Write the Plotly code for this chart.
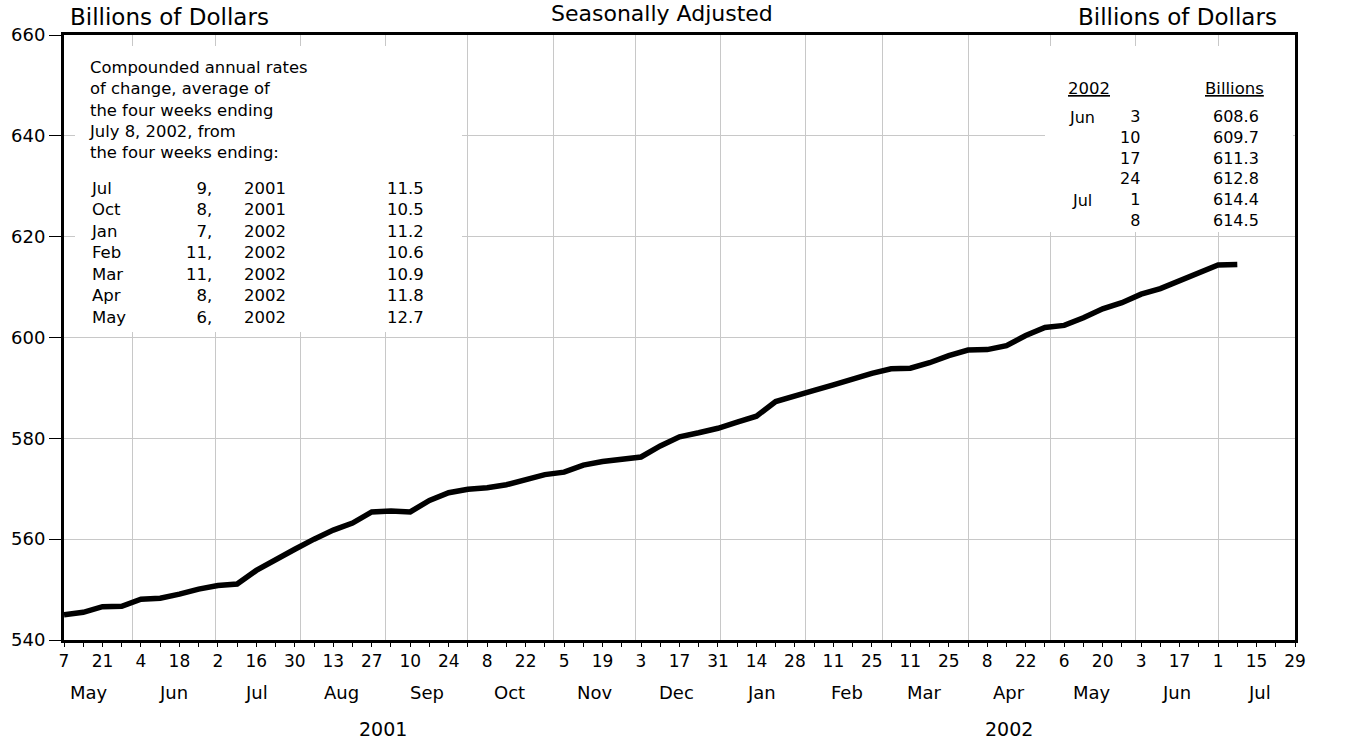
import pandas as pd
import plotly.graph_objects as go

# ---------------- data ----------------
start_date = "2001-05-07"
values = [545.0, 545.5, 546.6, 546.7, 548.1, 548.3, 549.1, 550.1, 550.8, 551.1,
          553.8, 556.0, 558.0, 560.0, 561.8, 563.2, 565.4, 565.6, 565.4, 567.7,
          569.2, 569.9, 570.2, 570.8, 571.9, 572.8, 573.3, 574.7, 575.4, 575.9,
          576.3, 578.5, 580.3, 581.1, 582.0, 583.2, 584.4, 587.3, 588.3, 589.5,
          590.6, 591.8, 592.9, 593.8, 593.9, 595.0, 596.4, 597.5, 597.6, 598.4,
          600.4, 602.0, 602.4, 603.9, 605.7, 606.9, 608.6, 609.7, 611.3, 612.8,
          614.4, 614.5]
dates = pd.date_range(start_date, periods=len(values), freq="7D")

x_start, x_end = "2001-05-07", "2002-07-29"
y_ticks = [540, 560, 580, 600, 620, 640, 660]

month_names = ["May", "Jun", "Jul", "Aug", "Sep", "Oct", "Nov", "Dec",
               "Jan", "Feb", "Mar", "Apr", "May", "Jun", "Jul"]
month_years = [2001] * 8 + [2002] * 7
month_nums = [5, 6, 7, 8, 9, 10, 11, 12, 1, 2, 3, 4, 5, 6, 7]
year_labels = ["2001", "2002"]
year_centers = ["2001-08-31", "2002-04-16"]

note_lines = ["Compounded annual rates", "of change, average of",
              "the four weeks ending", "July 8, 2002, from",
              "the four weeks ending:"]
rate_months = ["Jul", "Oct", "Jan", "Feb", "Mar", "Apr", "May"]
rate_days = [9, 8, 7, 11, 11, 8, 6]
rate_years = [2001, 2001, 2002, 2002, 2002, 2002, 2002]
rate_values = [11.5, 10.5, 11.2, 10.6, 10.9, 11.8, 12.7]

recent_months = ["Jun", "Jul"]
recent_month_rows = [0, 4]
recent_days = [3, 10, 17, 24, 1, 8]
recent_values = [608.6, 609.7, 611.3, 612.8, 614.4, 614.5]

# ---------------- layout helpers ----------------
FONT = "DejaVu Sans"
W, H = 1359, 742
L, R, T, B = 64, 1295, 35, 640


def px_x(px):
    return (px - L) / (R - L)


def px_y(py):
    return (B - py) / (B - T)


week_ticks = pd.date_range(x_start, x_end, freq="7D")
week_text = [str(d.day) if i % 2 == 0 else "" for i, d in enumerate(week_ticks)]
month_starts = pd.date_range("2001-06-01", "2002-07-01", freq="MS")

fig = go.Figure()
fig.add_trace(go.Scatter(x=dates, y=values, mode="lines",
                         line=dict(color="black", width=5.5),
                         hoverinfo="skip", showlegend=False))
# same series, fully transparent, so the weekly-tick axis (x2) is built
fig.add_trace(go.Scatter(x=dates, y=values, mode="lines", xaxis="x2",
                         line=dict(color="rgba(0,0,0,0)", width=1),
                         hoverinfo="skip", showlegend=False))

ann = []

# white panels behind the two text blocks (hide the grid there)
for (x0, x1, y0, y1) in [(75, 462, 46, 332), (1045, 1293, 46, 232)]:
    ann.append(dict(x=px_x(x0), y=px_y(y0), xref="paper", yref="paper",
                    text=" ", showarrow=False, xanchor="left", yanchor="top",
                    width=x1 - x0, height=y1 - y0, bgcolor="white",
                    borderpad=0, borderwidth=0))


def text(x, y, s, size, xanchor="left", xref="paper", align=None):
    ann.append(dict(x=x, y=y, xref=xref, yref="paper", text=s, showarrow=False,
                    xanchor=xanchor, yanchor="middle",
                    align=align or ("right" if xanchor == "right" else "left"),
                    font=dict(family=FONT, size=size, color="black")))


# headers
text(px_x(68), px_y(17), "Billions of Dollars", 23)
text(px_x(1279), px_y(17), "Billions of Dollars", 23, xanchor="right")
text(px_x(662), px_y(14), "Seasonally Adjusted", 22, xanchor="center")

# month & year labels
for name, yr, mn in zip(month_names, month_years, month_nums):
    text(pd.Timestamp(yr, mn, 16), px_y(692), name, 18, xanchor="center", xref="x")
for lab, c in zip(year_labels, year_centers):
    text(c, px_y(729), lab, 19, xanchor="center", xref="x")

# left note (one block, 21.3 px line pitch)
text(px_x(87), px_y(67 + 21.3 * 2), "<br>".join(note_lines), 16.4)

# left table, one block per column (21.5 px line pitch)
ty = px_y(188 + 21.5 * 3)
ts = 16.5
text(px_x(89), ty, "<br>".join(rate_months), ts)
text(px_x(214), ty, "<br>".join(f"{d}," for d in rate_days), ts, xanchor="right")
text(px_x(242), ty, "<br>".join(str(y) for y in rate_years), ts)
text(px_x(426), ty, "<br>".join(f"{v:.1f}" for v in rate_values), ts, xanchor="right")

# right table
text(px_x(1066), px_y(88), "<u>2002</u>", 16.5)
text(px_x(1266), px_y(88), "<u>Billions</u>", 16.5, xanchor="right")
ry = px_y(117 + 20.8 * 2.5)
text(px_x(1142), ry, "<br>".join(str(d) for d in recent_days), 16, xanchor="right")
text(px_x(1261), ry, "<br>".join(f"{v:.1f}" for v in recent_values), 16, xanchor="right")
for m, r in zip(recent_months, recent_month_rows):
    text(px_x(1067 if m == "Jun" else 1070), px_y(117 + 20.8 * r), m, 16)

grid = "#c8c8c8"
fig.update_layout(
    width=W, height=H,
    margin=dict(l=L, r=W - R, t=T, b=H - B, pad=0),
    paper_bgcolor="white", plot_bgcolor="white",
    font=dict(family=FONT, color="black"),
    showlegend=False,
    # main x axis: month-start grid lines + frame
    xaxis=dict(type="date", range=[x_start, x_end], tickmode="array",
               tickvals=month_starts, showticklabels=False, ticks="",
               showgrid=True, gridcolor=grid, gridwidth=1,
               showline=True, linewidth=3, linecolor="black", mirror=True,
               zeroline=False),
    # overlay x axis: weekly ticks, biweekly day labels
    xaxis2=dict(type="date", range=[x_start, x_end], overlaying="x",
                anchor="y", side="bottom", tickmode="array",
                tickvals=week_ticks, ticktext=week_text, ticks="outside",
                ticklen=6, tickwidth=1, tickcolor="black", showgrid=False,
                showline=False, zeroline=False, tickangle=0,
                tickfont=dict(size=17)),
    yaxis=dict(range=[540, 660], tickmode="array", tickvals=y_ticks,
               ticks="outside", ticklen=12, tickwidth=1, tickcolor="black",
               showgrid=True, gridcolor=grid, gridwidth=1,
               showline=True, linewidth=3, linecolor="black", mirror=True,
               zeroline=False, tickfont=dict(size=18)),
    yaxis2=dict(range=[540, 660], overlaying="y", anchor="x", side="right",
                tickmode="array", tickvals=y_ticks, ticks="outside",
                ticklen=9, tickwidth=1, tickcolor="black", showgrid=False,
                showline=False, zeroline=False, tickfont=dict(size=18)),
    annotations=ann,
)

fig.write_html("out.html", config={"displayModeBar": False},
               post_script="document.body.style.margin='0';")
